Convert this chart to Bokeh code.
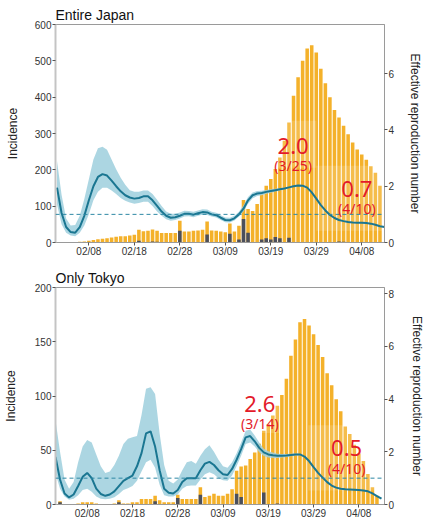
import pandas as pd
from bokeh.plotting import figure
from bokeh.models import (Range1d, LinearAxis, FixedTicker, DatetimeTickFormatter,
                          Span, Label, ColumnDataSource)
from bokeh.layouts import column
from bokeh.embed import file_html
from bokeh.resources import INLINE

# ---------------- data ----------------
tick_dates = ["2020-02-08", "2020-02-18", "2020-02-28", "2020-03-09",
              "2020-03-19", "2020-03-29", "2020-04-08"]

# Entire Japan: daily incidence from 2020-02-06
japan_bar_start = "2020-02-06"
japan_total = [2, 3, 5, 7, 9, 10, 12, 14, 16, 17,
               17, 19, 21, 35, 31, 32, 36, 32, 26, 26,
               26, 26, 60, 30, 30, 32, 33, 35, 58, 33,
               32, 30, 28, 52, 30, 46, 117, 92, 87, 106,
               133, 156, 175, 202, 234, 280, 330, 404, 455, 500,
               534, 543, 523, 478, 438, 400, 365, 344, 321, 298,
               275, 256, 242, 228, 210, 192, 156]
japan_dark = [0, 0, 0, 0, 0, 0, 0, 0, 0, 0,
              0, 0, 0, 5, 0, 0, 3, 2, 0, 0,
              0, 0, 32, 0, 0, 0, 0, 0, 22, 0,
              0, 0, 0, 24, 0, 8, 65, 27, 0, 0,
              8, 12, 8, 15, 12, 0, 13, 0, 0, 0,
              0, 0, 0, 0, 0, 0, 0, 3, 2, 0,
              0, 0, 0, 0, 0, 0, 0]

# Entire Japan: effective reproduction number from 2020-02-01
japan_r_start = "2020-02-01"
japan_r = [1.95, 1.05, 0.55, 0.37, 0.35, 0.55, 0.95, 1.5, 2.0, 2.33,
           2.43, 2.38, 2.2, 2.0, 1.82, 1.68, 1.6, 1.56, 1.58, 1.64,
           1.64, 1.5, 1.3, 1.1, 0.95, 0.88, 0.9, 0.95, 1.02, 1.02,
           0.99, 1.04, 1.08, 1.07, 1.0, 0.97, 0.88, 0.8, 0.79, 0.86,
           1.0, 1.2, 1.5, 1.68, 1.74, 1.76, 1.8, 1.83, 1.86, 1.89,
           1.92, 1.96, 2.0, 2.03, 2.02, 1.95, 1.78, 1.56, 1.33, 1.14,
           0.98, 0.87, 0.8, 0.76, 0.73, 0.71, 0.7, 0.7, 0.69, 0.67,
           0.63, 0.58, 0.55]
japan_r_lo = [1.35, 0.65, 0.35, 0.25, 0.22, 0.35, 0.6, 1.0, 1.5, 1.8,
              1.95, 1.95, 1.85, 1.72, 1.58, 1.48, 1.42, 1.38, 1.4, 1.45,
              1.45, 1.3, 1.1, 0.95, 0.83, 0.77, 0.8, 0.85, 0.92, 0.93,
              0.9, 0.95, 0.99, 0.98, 0.92, 0.89, 0.8, 0.72, 0.71, 0.78,
              0.92, 1.1, 1.38, 1.57, 1.65, 1.68, 1.73, 1.77, 1.81, 1.85,
              1.89, 1.94, 1.98, 2.01, 2.0, 1.93, 1.77, 1.55, 1.32, 1.13,
              0.97, 0.86, 0.79, 0.75, 0.72, 0.7, 0.69, 0.69, 0.68, 0.66,
              0.62, 0.57, 0.54]
japan_r_hi = [2.9, 1.7, 0.85, 0.6, 0.62, 0.95, 1.55, 2.25, 2.95, 3.35,
              3.4, 3.3, 2.95, 2.6, 2.3, 2.05, 1.86, 1.8, 1.8, 1.85,
              1.85, 1.72, 1.52, 1.3, 1.1, 1.02, 1.02, 1.07, 1.13, 1.12,
              1.09, 1.14, 1.18, 1.17, 1.09, 1.06, 0.97, 0.89, 0.88, 0.95,
              1.09, 1.32, 1.62, 1.78, 1.83, 1.84, 1.87, 1.89, 1.91, 1.93,
              1.95, 1.98, 2.02, 2.05, 2.04, 1.97, 1.79, 1.57, 1.34, 1.15,
              0.99, 0.88, 0.81, 0.77, 0.74, 0.72, 0.71, 0.71, 0.7, 0.68,
              0.64, 0.59, 0.56]

# Only Tokyo: daily incidence from 2020-02-02
tokyo_bar_start = "2020-02-02"
tokyo_total = [3, 0, 0, 0, 1, 2, 2, 2, 1, 0,
               0, 0, 1, 4, 1, 1, 2, 2, 5, 5,
               5, 8, 4, 2, 2, 2, 9, 5, 5, 5,
               5, 16, 7, 8, 10, 8, 8, 10, 14, 31,
               35, 36, 42, 48, 56, 68, 74, 82, 91, 101,
               116, 137, 152, 168, 171, 165, 157, 147, 136, 121,
               110, 97, 86, 72, 65, 55, 47, 40, 28, 16,
               8]
tokyo_dark = [2, 0, 0, 0, 0, 0, 0, 0, 0, 0,
              0, 0, 0, 2, 0, 0, 0, 0, 0, 0,
              0, 3, 0, 0, 0, 0, 6, 0, 0, 0,
              0, 9, 0, 0, 0, 0, 0, 0, 0, 10,
              7, 0, 0, 0, 0, 11, 0, 0, 1, 0,
              0, 0, 0, 0, 0, 0, 0, 0, 0, 0,
              0, 0, 0, 0, 0, 0, 0, 0, 0, 0,
              0]

# Only Tokyo: effective reproduction number from 2020-02-01
tokyo_r_start = "2020-02-01"
tokyo_r = [1.81, 0.95, 0.42, 0.27, 0.38, 0.7, 1.05, 1.2, 1.0, 0.6,
           0.4, 0.33, 0.38, 0.5, 0.7, 0.9, 1.0, 1.1, 1.45, 1.95,
           2.7, 2.78, 2.2, 1.3, 0.6, 0.45, 0.42, 0.55, 0.85, 1.0,
           1.0, 1.0, 1.3, 1.55, 1.62, 1.5, 1.3, 1.15, 1.12, 1.35,
           1.7, 2.1, 2.55, 2.6, 2.4, 2.15, 1.98, 1.9, 1.87, 1.85,
           1.85, 1.86, 1.88, 1.9, 1.9, 1.82, 1.65, 1.42, 1.2, 1.02,
           0.85, 0.72, 0.64, 0.6, 0.58, 0.57, 0.56, 0.55, 0.53, 0.5,
           0.42, 0.32, 0.22]
tokyo_r_lo = [1.19, 0.6, 0.3, 0.18, 0.22, 0.35, 0.55, 0.6, 0.48, 0.3,
              0.22, 0.2, 0.22, 0.28, 0.4, 0.55, 0.62, 0.7, 0.9, 1.25,
              1.6, 1.7, 1.4, 0.75, 0.35, 0.3, 0.3, 0.38, 0.6, 0.7,
              0.72, 0.72, 0.95, 1.15, 1.22, 1.15, 1.0, 0.92, 0.9, 1.1,
              1.45, 1.85, 2.3, 2.35, 2.2, 1.98, 1.84, 1.78, 1.77, 1.77,
              1.78, 1.8, 1.83, 1.86, 1.87, 1.8, 1.64, 1.41, 1.19, 1.01,
              0.84, 0.71, 0.63, 0.59, 0.57, 0.56, 0.55, 0.54, 0.52, 0.49,
              0.41, 0.31, 0.21]
tokyo_r_hi = [3.2, 2.0, 0.95, 0.6, 0.85, 1.6, 2.2, 2.45, 2.35, 1.9,
              1.45, 1.2, 1.25, 1.5, 1.85, 2.3, 2.5, 2.55, 2.6, 3.4,
              4.4, 4.45, 4.2, 2.7, 1.5, 0.9, 0.8, 0.95, 1.3, 1.6,
              1.65, 1.55, 1.85, 2.1, 2.25, 2.0, 1.7, 1.45, 1.4, 1.6,
              1.95, 2.35, 2.8, 2.85, 2.62, 2.35, 2.12, 2.02, 1.97, 1.93,
              1.92, 1.92, 1.93, 1.94, 1.93, 1.84, 1.66, 1.43, 1.21, 1.03,
              0.86, 0.73, 0.65, 0.61, 0.59, 0.58, 0.57, 0.56, 0.54, 0.51,
              0.43, 0.33, 0.23]

# annotation texts
japan_notes = [("2.0", "(3/25)"), ("0.7", "(4/10)")]
tokyo_notes = [("2.6", "(3/14)"), ("0.5", "(4/10)")]

# ---------------- styling ----------------
ORANGE = "#f4b12a"
DARK = "#4b4f5c"
BAND = "#9dcfdd"
LINE = "#1a7691"
DASH = "#2e88a4"
RED = "#e31a2a"
FONT = "Liberation Sans"
DAY = 86400000.0


def ms(d):
    return pd.Timestamp(d).value / 1e6


def make_panel(title, bar_start, total, dark, r_start, r, r_lo, r_hi,
               x0, x1, ymax, yticks, rmax, rticks, notes, note_pos, boxes,
               height, b_top, b_bottom, b_left, b_right, lab_l, lab_r):
    p = figure(width=429, height=height, x_axis_type="datetime",
               x_range=Range1d(ms(x0), ms(x1)), y_range=Range1d(0, ymax),
               output_backend="svg", toolbar_location=None,
               min_border_top=b_top, min_border_bottom=b_bottom,
               min_border_left=b_left, min_border_right=b_right,
               background_fill_color="white", border_fill_color="white")
    p.extra_y_ranges = {"r": Range1d(0, rmax)}
    p.grid.visible = False
    p.outline_line_color = "#9a9a9a"
    p.outline_line_width = 1

    bdates = pd.date_range(bar_start, periods=len(total), freq="D")
    bsrc = ColumnDataSource(dict(x=bdates, total=total, dark=dark))
    p.vbar(x="x", top="total", width=0.78 * DAY, source=bsrc,
           fill_color=ORANGE, line_color=None)
    p.vbar(x="x", top="dark", width=0.78 * DAY, source=bsrc,
           fill_color=DARK, line_color=None)

    # faint white boxes behind the annotations
    for (bx0, bx1, by0, by1) in boxes:
        p.quad(left=[ms(bx0)], right=[ms(bx1)], bottom=[by0], top=[by1],
               fill_color="white", fill_alpha=0.16, line_color=None)

    rdates = pd.date_range(r_start, periods=len(r), freq="D")
    rsrc = ColumnDataSource(dict(x=rdates, r=r, lo=r_lo, hi=r_hi))
    p.varea(x="x", y1="lo", y2="hi", source=rsrc, fill_color=BAND,
            fill_alpha=0.85, y_range_name="r")
    p.line(x="x", y="r", source=rsrc, line_color=LINE, line_width=2,
           y_range_name="r")
    p.add_layout(Span(location=1, dimension="width", y_range_name="r",
                      line_color=DASH, line_dash="4 3", line_width=1))

    for (big, small), (dx, yb, ys) in zip(notes, note_pos):
        p.add_layout(Label(x=ms(dx), y=yb, text=big, text_align="center",
                           text_baseline="middle", text_color=RED,
                           text_font="Noto Sans", text_font_size="22px"))
        p.add_layout(Label(x=ms(dx), y=ys, text=small, text_align="center",
                           text_baseline="middle", text_color=RED,
                           text_font="Noto Sans", text_font_size="14px"))

    # axes
    xa = p.xaxis[0]
    xa.ticker = FixedTicker(ticks=[ms(d) for d in tick_dates])
    xa.formatter = DatetimeTickFormatter(days="%m/%d", months="%m/%d",
                                         hours="%m/%d", years="%m/%d")
    xa.minor_tick_line_color = None
    xa.major_tick_out = 3
    xa.major_tick_in = 0
    xa.major_label_standoff = 0
    xa.axis_line_color = "#9a9a9a"
    xa.major_tick_line_color = "#555555"

    ya = p.yaxis[0]
    ya.ticker = FixedTicker(ticks=yticks)
    ya.axis_label = "Incidence"
    ya.axis_line_color = "#c4c4c4"
    ya.axis_line_width = 2
    ya.axis_label_standoff = lab_l

    ra = LinearAxis(y_range_name="r", ticker=FixedTicker(ticks=rticks),
                    axis_label="Effective reproduction number")
    ra.axis_line_color = "#9a9a9a"
    ra.axis_label_standoff = lab_r
    p.add_layout(ra, "right")

    for ax in (ya, ra):
        ax.minor_tick_line_color = None
        ax.major_tick_out = 3
        ax.major_tick_in = 0
        ax.major_label_standoff = 1
        ax.major_tick_line_color = "#555555"
    for ax in (xa, ya, ra):
        ax.major_label_text_font = FONT
        ax.major_label_text_font_size = "10px"
        ax.major_label_text_color = "#333333"
        ax.axis_label_text_font = FONT
        ax.axis_label_text_font_size = "12px"
        ax.axis_label_text_font_style = "normal"
        ax.axis_label_text_color = "#222222"

    p.title.text = title
    p.title.text_font = FONT
    p.title.text_font_size = "14px"
    p.title.text_font_style = "normal"
    p.title.text_color = "#111111"
    p.title.align = "left"
    p.title.standoff = 4
    return p


p1 = make_panel("Entire Japan", japan_bar_start, japan_total, japan_dark,
                japan_r_start, japan_r, japan_r_lo, japan_r_hi,
                "2020-01-31 16:00", "2020-04-13 00:00", 600,
                [0, 100, 200, 300, 400, 500, 600], 7.75, [0, 2, 4, 6],
                japan_notes,
                [("2020-03-23 22:00", 266, 211), ("2020-04-06 22:00", 148, 93)],
                [("2020-03-18 18:00", "2020-03-29 00:00", 206, 335),
                 ("2020-03-29 00:00", "2020-04-13 00:00", 32, 211)],
                262, 24, 20, 52, 45, 12, 11)
p2 = make_panel("Only Tokyo", tokyo_bar_start, tokyo_total, tokyo_dark,
                tokyo_r_start, tokyo_r, tokyo_r_lo, tokyo_r_hi,
                "2020-02-01 00:00", "2020-04-13 16:00", 200,
                [0, 50, 100, 150, 200], 8.24, [0, 2, 4, 6, 8],
                tokyo_notes,
                [("2020-03-17 03:00", 93, 75), ("2020-04-05 07:00", 52, 33)],
                [("2020-03-11 16:00", "2020-03-21 10:00", 66, 112),
                 ("2020-03-27 20:00", "2020-04-12 10:00", 13, 73)],
                262, 25, 20, 51, 41, 14, 13)

layout = column(p1, p2, spacing=0)
open("out.html", "w").write(file_html(layout, INLINE))
